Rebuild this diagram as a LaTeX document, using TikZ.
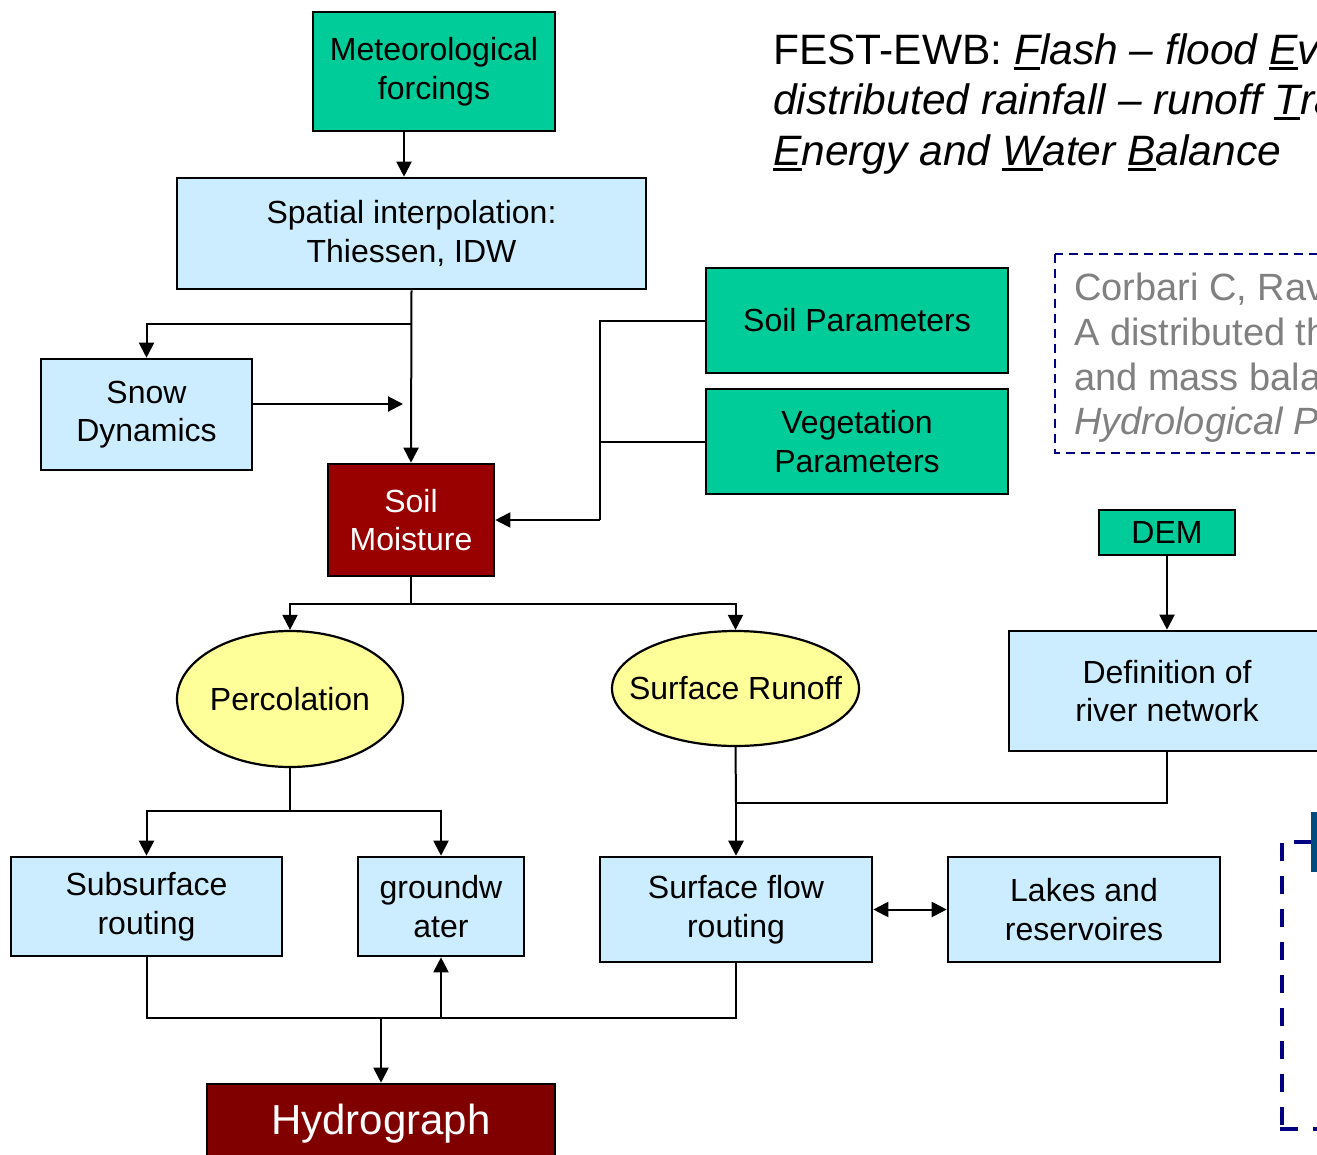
\documentclass[tikz,border=0pt]{standalone}
\usepackage{fontspec}
\setmainfont{Liberation Sans}
\usetikzlibrary{arrows.meta,shapes.geometric,calc}

\definecolor{forcing}{HTML}{00CC99}
\definecolor{process}{HTML}{CCECFF}
\definecolor{flux}{HTML}{FFFF99}
\definecolor{storage}{HTML}{990000}
\definecolor{result}{HTML}{800000}
\definecolor{refnavy}{HTML}{000080}
\definecolor{refgray}{HTML}{808080}
\definecolor{barblue}{HTML}{004B7F}

% thick underline for the acronym letters
\newcommand{\acroul}[1]{\setbox0\hbox{#1}\rlap{\rule[-6pt]{\wd0}{3pt}}\box0}

\begin{document}
\begin{tikzpicture}[x=1pt,y=-1pt,
  blk/.style={draw=black, line width=2.6pt, inner sep=0pt, align=center,
              font=\fontsize{32}{38.5}\selectfont},
  inbox/.style={blk, fill=forcing},
  procbox/.style={blk, fill=process},
  fluxell/.style={blk, ellipse, fill=flux, line width=2.2pt, inner xsep=-35pt},
  storebox/.style={blk, fill=storage, text=white},
  conn/.style={line width=2pt},
  arr/.style={conn, -{Triangle[width=15pt,length=15pt]}},
  biarr/.style={conn, {Triangle[width=15pt,length=15pt]}-{Triangle[width=15pt,length=15pt]}},
  titleline/.style={anchor=base west, inner sep=0pt, font=\fontsize{42.5}{51}\selectfont},
  refline/.style={anchor=base west, inner sep=0pt, text=refgray, font=\fontsize{38}{45}\selectfont},
]
\useasboundingbox (0,0) rectangle (1317,1154);
\clip (0,0) rectangle (1317,1154);
\fill[white] (0,0) rectangle (1317,1154);

% ---- model title
\node[titleline] (t1) at (773,64) {FEST-EWB: \itshape\acroul{F}lash -- flood \acroul{E}vent-based \acroul{S}patially};
\node[titleline] (t2) at (773,114) {\itshape distributed rainfall -- runoff \acroul{T}ransformation --};
\node[titleline] (t3) at (773,165) {\itshape\acroul{E}nergy and \acroul{W}ater \acroul{B}alance};

% ---- reference
\draw[refnavy, line width=2.5pt, dash pattern=on 9pt off 6pt] (1055,254) rectangle (1340,453);
\node[refline] (r1) at (1074,300) {Corbari C, Ravazzani G, Mancini M (2011)};
\node[refline] (r2) at (1074,345) {A distributed thermodynamic model for energy};
\node[refline] (r3) at (1074,390) {and mass balance computation: FEST--EWB.};
\node[refline] (r4) at (1074,434) {\itshape Hydrological Processes};

% ---- inputs and processes
\node[inbox, minimum width=242pt, minimum height=119pt] (met) at (434,71.5) {Meteorological\\forcings};
\node[procbox, minimum width=469pt, minimum height=111pt] (spat) at (411.5,233.5) {Spatial interpolation:\\Thiessen, IDW};
\node[procbox, minimum width=211pt, minimum height=111pt] (snow) at (146.5,414.5) {Snow\\Dynamics};
\node[storebox, minimum width=166pt, minimum height=112pt] (soil) at (411,520) {Soil\\Moisture};
\node[inbox, minimum width=302pt, minimum height=105pt] (sp) at (857,320.5) {Soil Parameters};
\node[inbox, minimum width=302pt, minimum height=105pt] (vp) at (857,441.5) {Vegetation\\Parameters};
\node[inbox, minimum width=136pt, minimum height=45pt] (dem) at (1167,532.5) {DEM};
\node[procbox, minimum width=316pt, minimum height=120pt] (def) at (1167,691) {Definition of\\river network};

\node[fluxell, minimum width=226pt, minimum height=136pt] (perc) at (290,699) {Percolation};
\node[fluxell, minimum width=247pt, minimum height=115pt] (run) at (735.5,688.5) {Surface Runoff};

\node[procbox, minimum width=271pt, minimum height=99pt] (sub) at (146.5,906.5) {Subsurface\\routing};
\node[procbox, minimum width=166pt, minimum height=99pt] (gw) at (441,906.5) {groundw\\ater};
\node[procbox, minimum width=272pt, minimum height=105pt] (sfr) at (736,909.5) {Surface flow\\routing};
\node[procbox, minimum width=272pt, minimum height=105pt] (lak) at (1084,909.5) {Lakes and\\reservoires};
\node[blk, fill=result, text=white, minimum width=348pt, minimum height=80pt,
      font=\fontsize{42}{48}\selectfont] (hyd) at (381,1124) {Hydrograph};

% ---- junction points
\coordinate (j1) at (411.5,324);
\coordinate (snowend) at (403,404);
\coordinate (pbus) at (600,520);
\coordinate (j2) at (411,604);
\coordinate (j3) at (290,811);
\coordinate (j4) at (736,803);
\coordinate (j5) at (736,1018);

% ---- connectors
\draw[arr] ([xshift=-30pt]met.south) -- ([xshift=-30pt]met.south |- spat.north);
\draw[arr] (spat.south) -- (soil.north);
\draw[arr] (j1) -| (snow.north);
\draw[arr] (snow.east |- snowend) -- (snowend);
\draw[conn] (sp.west) -| (pbus);
\draw[conn] (vp.west) -- (vp.west -| pbus);
\draw[arr] (pbus) -- (soil.east);
\draw[conn] (soil.south) -- (j2);
\draw[arr] (j2) -| (perc.north);
\draw[arr] (j2) -| (run.north);
\draw[conn] (perc.south) -- (j3);
\draw[arr] (j3) -| (sub.north);
\draw[arr] (j3) -| (gw.north);
\draw[arr] (dem.south) -- (def.north);
\draw[conn] (def.south) |- (j4);
\draw[conn] (run.south) -- (j4);
\draw[arr, line width=2.8pt] (j4) -- (sfr.north);
\draw[biarr] (sfr.east) -- (lak.west);
\draw[conn] (sub.south) |- (j5) -- (sfr.south);
\draw[arr] (gw.south |- j5) -- (gw.south);
\draw[arr] (hyd.north |- j5) -- (hyd.north);

% ---- dashed frame at the lower right
\draw[refnavy, line width=4pt, dash pattern=on 18pt off 15pt] (1282,843) -- (1282,1125);
\draw[refnavy, line width=4pt, dash pattern=on 18pt off 15pt] (1280,1129) -- (1340,1129);
\draw[refnavy, line width=4pt] (1294,842) -- (1311,842);
\fill[barblue] (1311,812) rectangle (1320,872);
\end{tikzpicture}
\end{document}
